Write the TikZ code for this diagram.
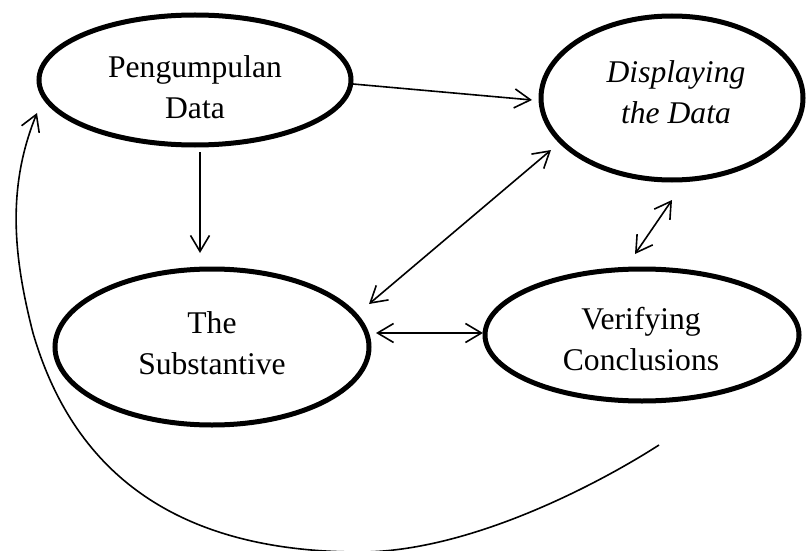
\documentclass[tikz,border=0pt]{standalone}
\usepackage{fontspec}
\setmainfont{Liberation Serif}
\usetikzlibrary{shapes.geometric,arrows.meta}
\begin{document}
\begin{tikzpicture}[x=0.5pt,y=-0.5pt,
  oval/.style={draw,ellipse,line width=2.5pt,inner sep=0pt},
  lbl/.style={align=center,inner sep=0pt,font=\fontsize{15.8}{20.5}\selectfont},
  lbli/.style={align=center,inner sep=0pt,font=\fontsize{15.8}{20.5}\selectfont\itshape},
  conn/.style={line width=0.8pt},
  barb/.tip={Straight Barb[length=8pt,width=9.5pt]}]
\useasboundingbox (0,0) rectangle (808,551);
% ellipses
\node[oval,minimum width=156pt,minimum height=65pt] (p) at (195,80) {};
\node[oval,minimum width=131pt,minimum height=82pt] (d) at (672,98) {};
\node[oval,minimum width=157pt,minimum height=78pt] (s) at (212,347) {};
\node[oval,minimum width=157pt,minimum height=66pt] (v) at (642,335) {};
% labels
\node[lbl] (pt) at (195,87) {Pengumpulan\\Data};
\node[lbli] (dt) at (676,92) {Displaying\\the Data};
\node[lbl] (st) at (212,343) {The\\Substantive};
\node[lbl] (vt) at (641,339) {Verifying\\Conclusions};
% connector ends
\coordinate (pd1) at (353,84);  \coordinate (pd2) at (532,100);
\coordinate (ps1) at (200,152); \coordinate (ps2) at (200,253);
\coordinate (sd1) at (369,304); \coordinate (sd2) at (551,150);
\coordinate (sv1) at (376,333); \coordinate (sv2) at (483,333);
\coordinate (dv1) at (635,254); \coordinate (dv2) at (672,200);
\coordinate (l0) at (659,445);  \coordinate (l1) at (360,552);
\coordinate (l2) at (33,333);   \coordinate (l3) at (37,113);
% connectors
\draw[conn,-barb] (pd1) -- (pd2);
\draw[conn,-barb] (ps1) -- (ps2);
\draw[conn,barb-barb] (sd1) -- (sd2);
\draw[conn,barb-barb] (sv1) -- (sv2);
\draw[conn,barb-barb] (dv1) -- (dv2);
\draw[conn,-barb] (l0) .. controls (600,483) and (470,552) .. (l1)
  .. controls (170,552) and (72,467) .. (l2)
  .. controls (13,255) and (7,187) .. (l3);
\end{tikzpicture}
\end{document}
